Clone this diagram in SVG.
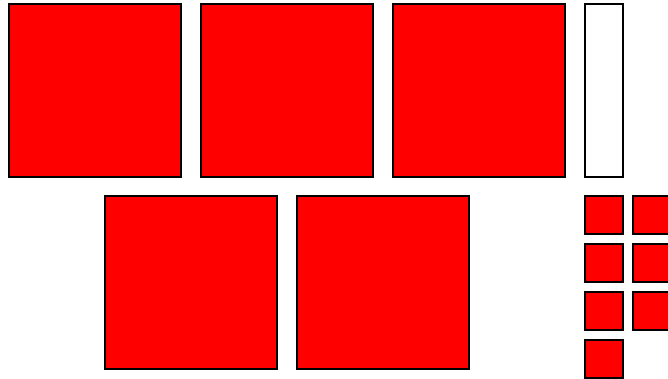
<svg xmlns="http://www.w3.org/2000/svg" width="668" height="379" viewBox="0 0 668 379">
<style>
rect{stroke:#000;stroke-width:2}
.r{fill:#f00}
.w{fill:#fff}
</style>
<rect width="668" height="379" fill="#fff" style="stroke:none"/>
<g id="b1"><rect class="r" x="9" y="4" width="172" height="173"/></g>
<g id="b2"><rect class="r" x="201" y="4" width="172" height="173"/></g>
<g id="b3"><rect class="r" x="393" y="4" width="172" height="173"/></g>
<g id="b4"><rect class="w" x="585" y="4" width="38" height="173"/></g>
<g id="b5"><rect class="r" x="105" y="196" width="172" height="173"/></g>
<g id="b6"><rect class="r" x="297" y="196" width="172" height="173"/></g>
<g id="s1"><rect class="r" x="585" y="196" width="38" height="38"/></g>
<g id="s2"><rect class="r" x="633" y="196" width="38" height="38"/></g>
<g id="s3"><rect class="r" x="585" y="244" width="38" height="38"/></g>
<g id="s4"><rect class="r" x="633" y="244" width="38" height="38"/></g>
<g id="s5"><rect class="r" x="585" y="292" width="38" height="38"/></g>
<g id="s6"><rect class="r" x="633" y="292" width="38" height="38"/></g>
<g id="s7"><rect class="r" x="585" y="340" width="38" height="38"/></g>
<g id="connectors"></g>
</svg>
